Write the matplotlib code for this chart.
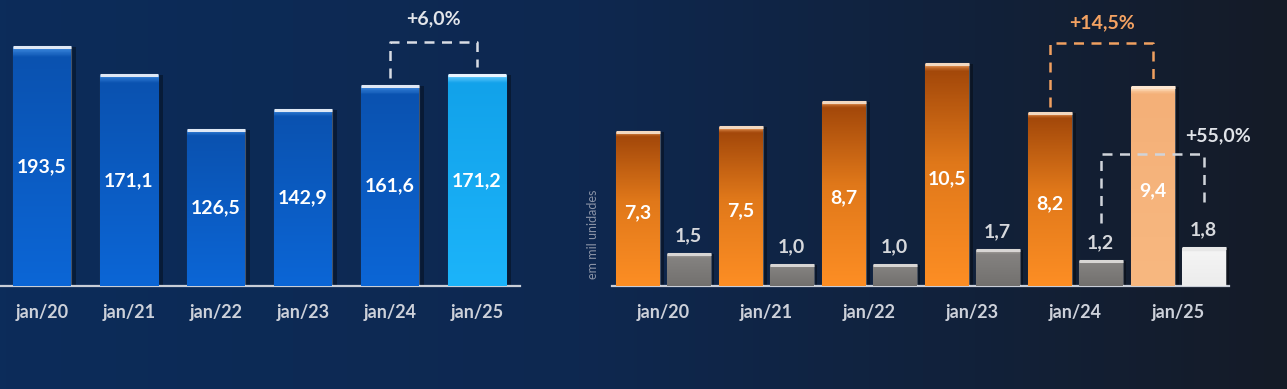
import numpy as np
import matplotlib
matplotlib.use("Agg")
import matplotlib.pyplot as plt
from matplotlib.colors import LinearSegmentedColormap

## data
periods = ["jan/20", "jan/21", "jan/22", "jan/23", "jan/24", "jan/25"]
left_vals = [193.5, 171.1, 126.5, 142.9, 161.6, 171.2]
orange_vals = [7.3, 7.5, 8.7, 10.5, 8.2, 9.4]
grey_vals = [1.5, 1.0, 1.0, 1.7, 1.2, 1.8]
left_growth = "+6,0%"
orange_growth = "+14,5%"
grey_growth = "+55,0%"
unit_label = "em mil unidades"

plt.rcParams['font.family'] = ['Lato', 'DejaVu Sans']
plt.rcParams['font.weight'] = 'bold'

W, H = 1287, 389
fig = plt.figure(figsize=(W / 100, H / 100), dpi=100)

## background gradient
bg = fig.add_axes([0, 0, 1, 1], zorder=0)
bg_cmap = LinearSegmentedColormap.from_list(
    "bg", [(0, "#0c2c5a"), (0.45, "#0e2850"), (0.72, "#11223d"), (1, "#151b27")])
gx = np.linspace(0, 1, 400).reshape(1, -1)
bg.imshow(gx, cmap=bg_cmap, aspect="auto", extent=[0, 1, 0, 1], vmin=0, vmax=1)
bg.axis("off")

base_px = 286  # baseline, pixels from top


def make_ax(x0_px, x1_px):
    ax = fig.add_axes([x0_px / W, (H - base_px) / H, (x1_px - x0_px) / W, base_px / H], zorder=1)
    ax.patch.set_alpha(0)
    for s in ["left", "right", "top"]:
        ax.spines[s].set_visible(False)
    ax.spines["bottom"].set_color("#c9ced8")
    ax.spines["bottom"].set_linewidth(1.6)
    ax.set_yticks([])
    ax.tick_params(axis="x", length=0, pad=13, labelsize=13, labelcolor="#cdd1da")
    return ax


def grad_bars(ax, xs, vals, width, colors, top_line, shadow=True):
    cm = LinearSegmentedColormap.from_list("b", colors)
    if shadow:
        ax.bar(np.array(xs) + width * 0.08, vals, width, color="#000000", alpha=0.35, zorder=2, lw=0)
    bars = ax.bar(xs, vals, width, color="none", edgecolor=(1, 1, 1, 0.25), lw=0.8, zorder=3)
    for b in bars:
        x0, w, h = b.get_x(), b.get_width(), b.get_height()
        im = ax.imshow(np.linspace(0, 1, 200).reshape(-1, 1), cmap=cm, aspect="auto",
                       extent=[x0, x0 + w, 0, h], origin="upper", zorder=3)
        im.set_clip_path(b)
        ax.plot([x0, x0 + w], [h, h], color=top_line, lw=2.2, solid_capstyle="butt", zorder=4)
    return bars


def bracket(ax, xa, xb, ya, yb, ytop, color):
    ax.plot([xa, xa, xb, xb], [ya, ytop, ytop, yb], color=color, lw=1.8,
            dashes=(4, 3), zorder=5)


## left panel
ax1 = make_ax(0, 560)
x1 = np.arange(len(periods))
px1 = 87.0
a1 = -42 / px1
ax1.set_xlim(a1, a1 + 560 / px1)
ax1.set_ylim(0, base_px / 1.235)
ax1.spines["bottom"].set_bounds(a1, (520 - 42) / px1)

blue = [(0, "#3a86dc"), (0.04, "#0a52b0"), (1, "#0c66d6")]
cyan = [(0, "#6fd0ff"), (0.04, "#12a2ea"), (1, "#1cb4fa")]
grad_bars(ax1, x1[:-1], left_vals[:-1], 58 / px1, blue, "#dfe8f5")
grad_bars(ax1, x1[-1:], left_vals[-1:], 58 / px1, cyan, "#e8f4ff")
for x, v in zip(x1, left_vals):
    ax1.text(x, v / 2, f"{v:.1f}".replace(".", ","), ha="center", va="center",
             color="white", fontsize=14, fontweight="bold", zorder=6)
ax1.set_xticks(x1, periods)

ytop1 = (base_px - 42) / 1.235
bracket(ax1, x1[4], x1[5], left_vals[4] + 7, left_vals[5] + 6.5, ytop1, "#d8dce4")
ax1.text((x1[4] + x1[5]) / 2, (base_px - 19) / 1.235, left_growth, ha="center", va="center",
         color="#e2e5ea", fontsize=14, fontweight="bold")

## right panel
ax2 = make_ax(590, W)
px2 = 103.0
a2 = -(663.4 - 590) / px2
ax2.set_xlim(a2, a2 + (W - 590) / px2)
ax2.set_ylim(0, base_px / 21.15)
ax2.spines["bottom"].set_bounds((611.6 - 663.4) / px2, (1229 - 663.4) / px2)

x2 = np.arange(len(periods))
xo = x2 - 25.4 / px2
xg = x2 + 25.3 / px2
bw = 44 / px2
orange = [(0, "#f0a060"), (0.03, "#a3480a"), (0.45, "#e0781a"), (1, "#fd8e24")]
peach = [(0, "#ffe0c0"), (0.03, "#f4b078"), (1, "#f8b880")]
grey = [(0, "#a8a4a0"), (0.12, "#848280"), (1, "#72706e")]
white = [(0, "#c8c8c8"), (0.12, "#f4f4f4"), (1, "#ececec")]
grad_bars(ax2, xo[:-1], orange_vals[:-1], bw, orange, "#f2d8c0")
grad_bars(ax2, xo[-1:], orange_vals[-1:], bw, peach, "#fde6d0")
grad_bars(ax2, xg[:-1], grey_vals[:-1], bw, grey, "#d8d6d4")
grad_bars(ax2, xg[-1:], grey_vals[-1:], bw, white, "#e8e8e8")

for x, v in zip(xo, orange_vals):
    ax2.annotate(f"{v:.1f}".replace(".", ","), (x, v / 2), xytext=(0, -3), textcoords="offset points",
                 ha="center", va="center", color="white", fontsize=14, fontweight="bold", zorder=6)
for x, v in zip(xg, grey_vals):
    ax2.annotate(f"{v:.1f}".replace(".", ","), (x, v), xytext=(0, 13), textcoords="offset points",
                 ha="center", va="center", color="#d6d8dc", fontsize=14, fontweight="bold", zorder=6)
ax2.set_xticks(x2, periods)

## orange growth bracket
bracket(ax2, xo[4], xo[5], orange_vals[4] + 0.26, orange_vals[5] + 0.34,
        (base_px - 43) / 21.15, "#f0a060")
ax2.text((xo[4] + xo[5]) / 2, (base_px - 23) / 21.15, orange_growth, ha="center", va="center",
         color="#f4a262", fontsize=14, fontweight="bold")
## grey growth bracket
bracket(ax2, xg[4], xg[5], grey_vals[4] + 1.78, grey_vals[5] + 1.89,
        (base_px - 154) / 21.15, "#d0d4da")
ax2.text((1218 - 663.4) / px2, (base_px - 136) / 21.15, grey_growth, ha="center", va="center",
         color="#e0e3e8", fontsize=14, fontweight="bold")

fig.text(593 / W, 1 - 234 / H, unit_label, rotation=90, ha="center", va="center",
         color="#8a93a6", fontsize=9, fontweight="normal")

fig.savefig("out.png", dpi=100, facecolor=fig.get_facecolor())
